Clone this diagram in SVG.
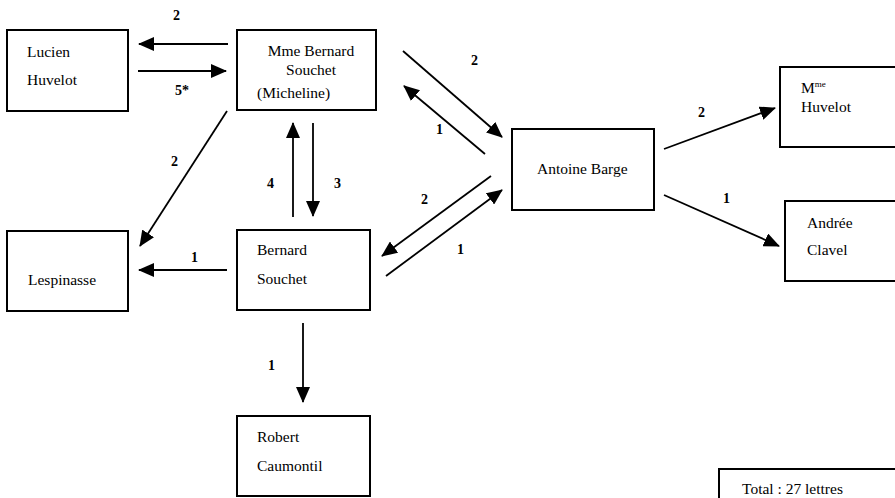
<svg xmlns="http://www.w3.org/2000/svg" width="895" height="498" viewBox="0 0 895 498">
<style>
.box{fill:#fff;stroke:#000;stroke-width:2}
.t{font-family:'Liberation Serif','DejaVu Serif',serif;font-size:15.5px;fill:#000}
.n{font-family:'Liberation Serif','DejaVu Serif',serif;font-size:14px;font-weight:bold;fill:#000}
.c{stroke:#000;stroke-width:1.8;fill:none;marker-end:url(#ah)}
</style>
<defs>
<marker id="ah" markerUnits="userSpaceOnUse" markerWidth="16" markerHeight="14" refX="15" refY="7" orient="auto">
<path d="M0,0 L16,7 L0,14 Z" fill="#000"/>
</marker>
</defs>
<rect width="895" height="498" fill="#fff"/>
<g id="lucien"><rect class="box" x="7" y="30" width="121" height="81"/><text class="t" x="27" y="57">Lucien</text><text class="t" x="27" y="85">Huvelot</text></g>
<g id="mme-souchet"><rect class="box" x="237" y="30" width="139" height="80"/><text class="t" x="311" y="56" text-anchor="middle">Mme Bernard</text><text class="t" x="311" y="75" text-anchor="middle">Souchet</text><text class="t" x="257" y="98">(Micheline)</text></g>
<g id="lespinasse"><rect class="box" x="7" y="231" width="121" height="80"/><text class="t" x="28" y="285">Lespinasse</text></g>
<g id="bernard"><rect class="box" x="237" y="230" width="133" height="80"/><text class="t" x="257" y="255">Bernard</text><text class="t" x="257" y="284">Souchet</text></g>
<g id="robert"><rect class="box" x="237" y="416" width="133" height="80"/><text class="t" x="257" y="442">Robert</text><text class="t" x="257" y="471">Caumontil</text></g>
<g id="antoine"><rect class="box" x="512" y="129" width="142" height="81"/><text class="t" x="537" y="174">Antoine Barge</text></g>
<g id="mme-huvelot"><rect class="box" x="780" y="67" width="120" height="80"/><text class="t" x="801" y="93">M<tspan font-size="9" dy="-6">me</tspan></text><text class="t" x="801" y="112">Huvelot</text></g>
<g id="andree"><rect class="box" x="785" y="201" width="115" height="80"/><text class="t" x="807" y="228">Andrée</text><text class="t" x="807" y="255">Clavel</text></g>
<g id="total"><rect class="box" x="719" y="469" width="180" height="40"/><text class="t" x="742" y="494">Total : 27 lettres</text></g>
<g id="connectors">
<line class="c" x1="228" y1="44" x2="139" y2="44"/>
<line class="c" x1="138" y1="71" x2="226" y2="71"/>
<line class="c" x1="227" y1="111" x2="140" y2="246"/>
<line class="c" x1="293" y1="217" x2="293" y2="123"/>
<line class="c" x1="313" y1="123" x2="313" y2="216"/>
<line class="c" x1="403" y1="51" x2="502" y2="137"/>
<line class="c" x1="485" y1="154" x2="404" y2="86"/>
<line class="c" x1="491" y1="176" x2="382" y2="256"/>
<line class="c" x1="386" y1="276" x2="502" y2="190"/>
<line class="c" x1="227" y1="270" x2="139" y2="270"/>
<line class="c" x1="303" y1="323" x2="303" y2="402"/>
<line class="c" x1="664" y1="149" x2="775" y2="108"/>
<line class="c" x1="664" y1="195" x2="779" y2="246"/>
</g>
<g id="labels">
<text class="n" x="173" y="20">2</text>
<text class="n" x="175" y="95">5*</text>
<text class="n" x="171" y="166">2</text>
<text class="n" x="267" y="188">4</text>
<text class="n" x="334" y="188">3</text>
<text class="n" x="471" y="65">2</text>
<text class="n" x="436" y="134">1</text>
<text class="n" x="421" y="204">2</text>
<text class="n" x="457" y="254">1</text>
<text class="n" x="191" y="262">1</text>
<text class="n" x="268" y="370">1</text>
<text class="n" x="698" y="117">2</text>
<text class="n" x="723" y="203">1</text>
</g>
</svg>
